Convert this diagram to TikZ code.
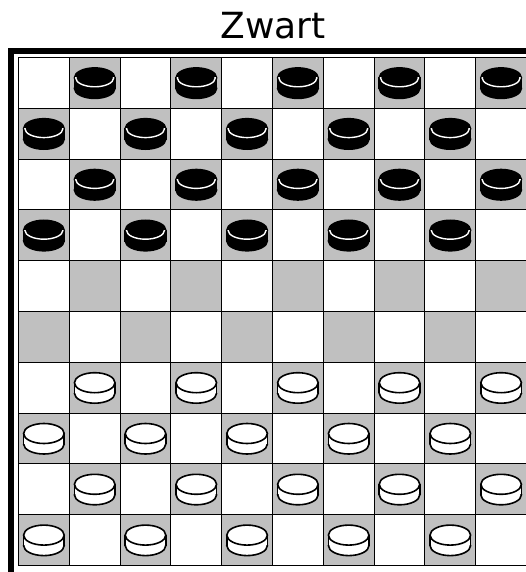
\documentclass[tikz,border=0pt]{standalone}
\usepackage{fontspec}
\setmainfont{DejaVu Sans}
\definecolor{darksq}{RGB}{192,192,192}
\tikzset{
  piecelw/.style={line width=1.6pt},
  blackpiece/.pic={
    \filldraw[piecelw,black] (0,5.5) ellipse[x radius=20.3pt, y radius=10pt];
    \filldraw[piecelw,black] (-20.3,-5) rectangle (20.3,5.5);
    \filldraw[piecelw,black] (0,-5) ellipse[x radius=20.3pt, y radius=10pt];
    \begin{scope}
      \clip (-25,-5) rectangle (25,12);
      \draw[white,line width=1.4pt] (0,-5) ellipse[x radius=19pt, y radius=8.9pt];
    \end{scope}
  },
  whitepiece/.pic={
    \fill[white] (0,5.5) ellipse[x radius=20.3pt, y radius=10pt];
    \fill[white] (-20.3,-5) rectangle (20.3,5.5);
    \begin{scope}
      \clip (-25,5.5) rectangle (25,20);
      \draw[piecelw] (0,5.5) ellipse[x radius=20.3pt, y radius=10pt];
    \end{scope}
    \draw[piecelw] (-20.3,-5) -- (-20.3,5.5);
    \draw[piecelw] (20.3,-5) -- (20.3,5.5);
    \filldraw[piecelw,fill=white] (0,-5) ellipse[x radius=20.3pt, y radius=10pt];
  }
}
\begin{document}
\begin{tikzpicture}[x=1pt,y=-1pt]
\useasboundingbox (0,0) rectangle (526,572);
\clip (0,0) rectangle (526,572);
\fill[white] (0,0) rectangle (526,572);
\node[font=\fontsize{36}{40}\selectfont, anchor=base, inner sep=0pt] (title) at (273,39) {Zwart};
\draw[line width=6pt] (11,51) rectangle (560,620);
\foreach \r in {0,...,9}{
  \foreach \c in {0,...,9}{
    \pgfmathtruncatemacro\odd{mod(\r+\c,2)}
    \pgfmathsetmacro\xa{18.5+50.8*\c}
    \pgfmathsetmacro\ya{57.5+50.8*\r}
    \ifnum\odd=1
      \fill[darksq] (\xa,\ya) rectangle ++(50.8,50.8);
    \fi
  }
}
\foreach \i in {0,...,10}{
  \pgfmathsetmacro\p{50.8*\i}
  \draw[line width=1pt] (18.5+\p,57.5) -- (18.5+\p,565.5);
  \draw[line width=1pt] (18.5,57.5+\p) -- (526.5,57.5+\p);
}
\foreach \r in {0,...,9}{
  \foreach \c in {0,...,9}{
    \pgfmathtruncatemacro\odd{mod(\r+\c,2)}
    \pgfmathsetmacro\cx{18.5+50.8*\c+25.4}
    \pgfmathsetmacro\cy{57.5+50.8*\r+25.4}
    \ifnum\odd=1
      \ifnum\r<4
        \pic at (\cx,\cy) {blackpiece};
      \fi
      \ifnum\r>5
        \pic at (\cx,\cy) {whitepiece};
      \fi
    \fi
  }
}
\end{tikzpicture}
\end{document}
